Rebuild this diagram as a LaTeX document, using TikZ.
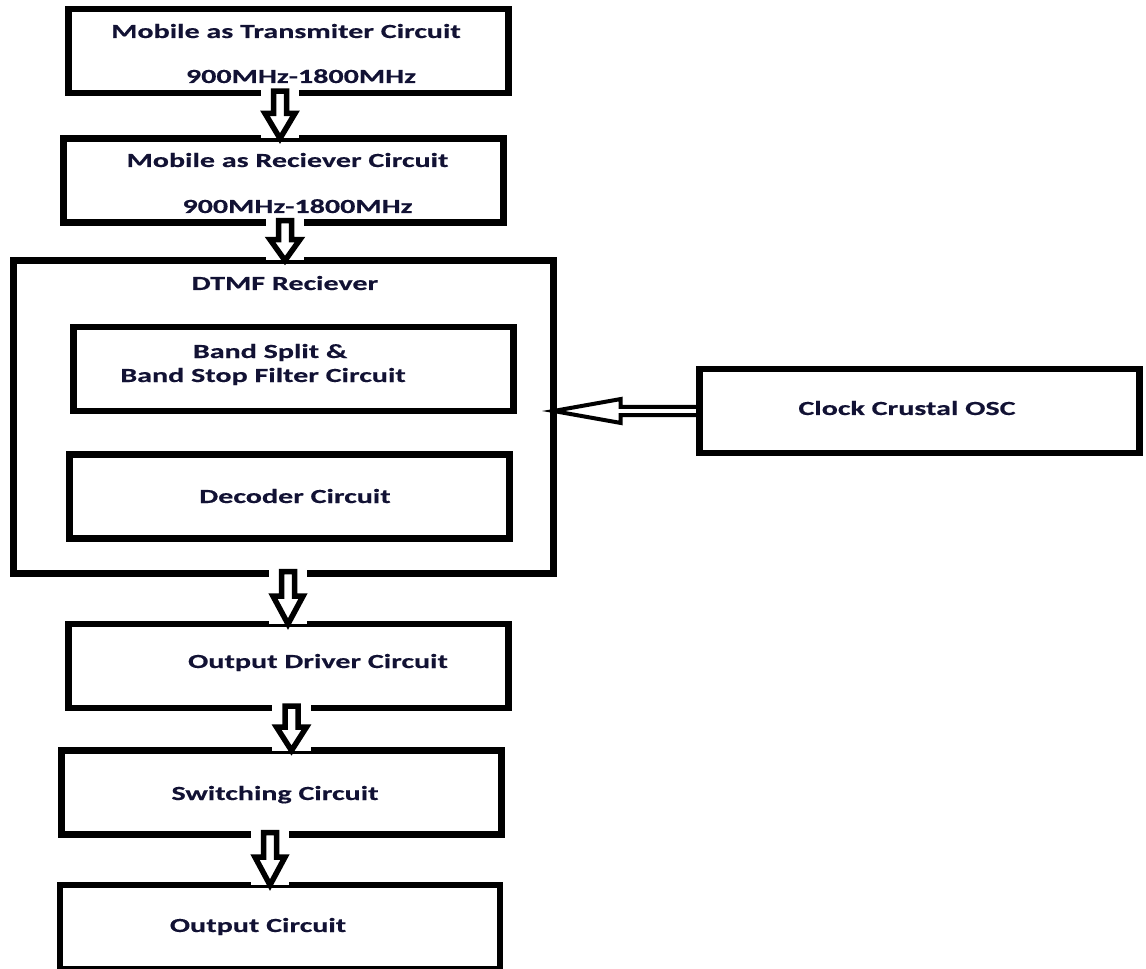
\documentclass[tikz,border=0pt]{standalone}
\usepackage{fontspec}
\usepackage{xcolor}
\usepackage{tikz}
\usetikzlibrary{positioning}
\usetikzlibrary{calc}
\newfontfamily\boxfont{Carlito}[FakeStretch=1.5, FakeBold=0.4]
\definecolor{txtcol}{RGB}{18,18,52}
\newdimen\unitpx
\unitpx=0.02cm
% hollow block arrow from #1 down to #2, shifted by #3
\newcommand{\flowdown}[3]{%
  \path[fill=white] let \p1=($(#1.south)+(#3,0)$), \p2=($(#2.north)+(#3,0)$) in
    (\x1-11pt,\y1+4pt) rectangle (\x1+11pt,\y2);
  \draw[hollow] let \p1=($(#1.south)+(#3,0)$), \p2=($(#2.north)+(#3,0)$),
      \p3=($(\p1)!0.45!(\p2)$) in
    (\x1-3.7pt,\y1+1pt) -- (\x1-3.7pt,\y3) -- (\x1-8.5pt,\y3) -- (\x1,\y2)
    -- (\x1+8.5pt,\y3) -- (\x1+3.7pt,\y3) -- (\x1+3.7pt,\y1+1pt) -- cycle;
}

\begin{document}
\begin{tikzpicture}[x=0.02cm, y=-0.02cm,
                    box/.style = { draw, black, line width = 6.5\unitpx, minimum width = 440\unitpx, minimum height = 84\unitpx, inner sep=0pt, outer sep=0pt },
                    txt/.style = { font = \boxfont\bfseries\fontsize{11.4}{13.7}\selectfont, text = txtcol, inner sep=0pt, anchor=base },
                    hollow/.style = { draw, black, fill = white, line width = 5.5\unitpx, line join = miter },
                    hollowthin/.style = { draw, black, line width = 4\unitpx, line join = miter },
                   ]
    \useasboundingbox (0,0) rectangle (1146,969);

    \node[box] (tx) at (288.5,51) {};
    \node[txt] (txa) at (286,38) {Mobile as Transmiter Circuit};
    \node[txt] (txb) at (301,83) {900MHz-1800MHz};

    \node[box] (rx) at (283.5,180.5) {};
    \node[txt] (rxa) at (287.5,167) {Mobile as Reciever Circuit};
    \node[txt] (rxb) at (297.5,213) {900MHz-1800MHz};

    \node[box, minimum width = 540\unitpx, minimum height = 313\unitpx] (dtmf) at (283.5,417) {};
    \node[txt] (dtmft) at (285,290) {DTMF Reciever};

    \node[box] (band) at (293.5,369) {};
    \node[txt] (banda) at (270,358) {Band Split \&};
    \node[txt] (bandb) at (263,382) {Band Stop Filter Circuit};

    \node[box] (dec) at (289.5,496.5) {};
    \node[txt] (deca) at (295,503) {Decoder Circuit};

    \node[box] (clk) at (919.5,411) {};
    \node[txt] (clka) at (907,415) {Clock Crustal OSC};

    \node[box] (drv) at (288.5,666) {};
    \node[txt] (drva) at (318,668) {Output Driver Circuit};

    \node[box] (sw) at (281.5,792.5) {};
    \node[txt] (swa) at (275,800) {Switching Circuit};

    \node[box] (outc) at (280,927) {};
    \node[txt] (outca) at (258,932) {Output Circuit};

    % flow arrows
    \flowdown{tx}{rx}{-8.5}
    \flowdown{rx}{dtmf}{1.5}
    \flowdown{dtmf}{drv}{4.5}
    \flowdown{drv}{sw}{3}
    \flowdown{sw}{outc}{-11.5}

    % clock into the receiver
    \draw[hollowthin] let \p1=(clk.west), \p2=(clk.west -| dtmf.east), \p3=($(\p1)!0.54!(\p2)$) in
      (\x1,\y1+2.3pt) -- (\x3,\y1+2.3pt) -- (\x3,\y1+6.8pt) -- (\x2,\y1)
      -- (\x3,\y1-6.8pt) -- (\x3,\y1-2.3pt) -- (\x1,\y1-2.3pt);
\end{tikzpicture}
\end{document}
